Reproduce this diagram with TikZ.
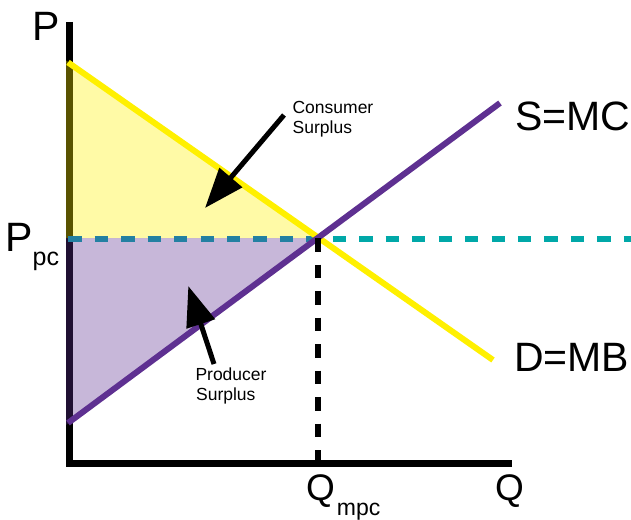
\documentclass[tikz,border=0pt]{standalone}
\usepackage{fontspec}
\setmainfont{Liberation Sans}
\usetikzlibrary{arrows.meta}
\definecolor{demandyellow}{RGB}{255,240,0}
\definecolor{supplypurple}{RGB}{94,48,145}
\definecolor{tealline}{RGB}{0,168,168}
\definecolor{tealdark}{RGB}{35,128,162}
\tikzset{
  axisline/.style={line width=6.5pt, black, line join=miter},
  curveline/.style={line width=6pt},
  tealdash/.style={line width=6pt, dash pattern=on 13.3pt off 13.15pt},
  blackdash/.style={line width=6pt, black, dash pattern=on 13.5pt off 13pt},
  bigarrow/.style={line width=5pt, black, -{Triangle[length=40pt,width=29pt]}},
  biglbl/.style={inner sep=0pt, anchor=base west, font=\fontsize{41}{41}\selectfont},
  smalllbl/.style={inner sep=0pt, anchor=base west, font=\fontsize{17.5}{20}\selectfont},
}
\begin{document}
\begin{tikzpicture}[x=1pt,y=-1pt]
\useasboundingbox (0,0) rectangle (631,519);
% key points
\coordinate (Atop) at (69.3,22);
\coordinate (Aorig) at (69.3,463.7);
\coordinate (Aend) at (512,463.7);
\coordinate (E) at (318,238);
\coordinate (Dstart) at (68,62.4);
\coordinate (Dend) at (493,360);
\coordinate (Sstart) at (68,423);
\coordinate (Send) at (500,103);
\coordinate (Tstart) at (68.3,238.7);
\coordinate (Tend) at (631,238.7);
\coordinate (Vtop) at (318,238);
\coordinate (Vbot) at (318,463);
\coordinate (CStail) at (284,115);
\coordinate (CStip) at (205,208);
\coordinate (PStail) at (214,364);
\coordinate (PStip) at (188.3,286);
% axes
\draw[axisline] (Atop) -- (Aorig) -- (Aend);
% surplus areas
\fill[demandyellow, opacity=0.35] (66,60.5) -- (E) -- (66,238) -- cycle;
\fill[supplypurple, opacity=0.35] (66,238) -- (E) -- (66,425) -- cycle;
% price line
\draw[tealdash, tealline] (Tstart) -- (Tend);
\begin{scope}
  \clip (60,228) rectangle (318,250);
  \draw[tealdash, tealdark] (Tstart) -- (Tend);
\end{scope}
% demand and supply
\draw[curveline, demandyellow] (Dstart) -- (Dend);
\draw[curveline, supplypurple] (Sstart) -- (Send);
% quantity line
\draw[blackdash] (Vtop) -- (Vbot);
% arrows
\draw[bigarrow] (CStail) -- (CStip);
\draw[bigarrow] (PStail) -- (PStip);
% labels
\node[biglbl] (lP) at (31.8,40.7) {P};
\node[biglbl] (lPpc) at (5.1,251.7) {P\raisebox{-13.3pt}{\fontsize{25}{25}\selectfont pc}};
\node[biglbl] (lS) at (515,130) {S=MC};
\node[biglbl] (lD) at (514,371) {D=MB};
\node[biglbl, font=\fontsize{37}{37}\selectfont] (lQmpc) at (306,500.5) {Q\hspace{2pt}\raisebox{-14.5pt}{\fontsize{23}{23}\selectfont mpc}};
\node[biglbl, font=\fontsize{37}{37}\selectfont] (lQ) at (495,500.5) {Q};
\node[smalllbl] (cs1) at (292.4,113.3) {Consumer};
\node[smalllbl] (cs2) at (292.5,133.3) {Surplus};
\node[smalllbl] (ps1) at (195.3,380.7) {Producer};
\node[smalllbl] (ps2) at (195.9,400.7) {Surplus};
\end{tikzpicture}
\end{document}
